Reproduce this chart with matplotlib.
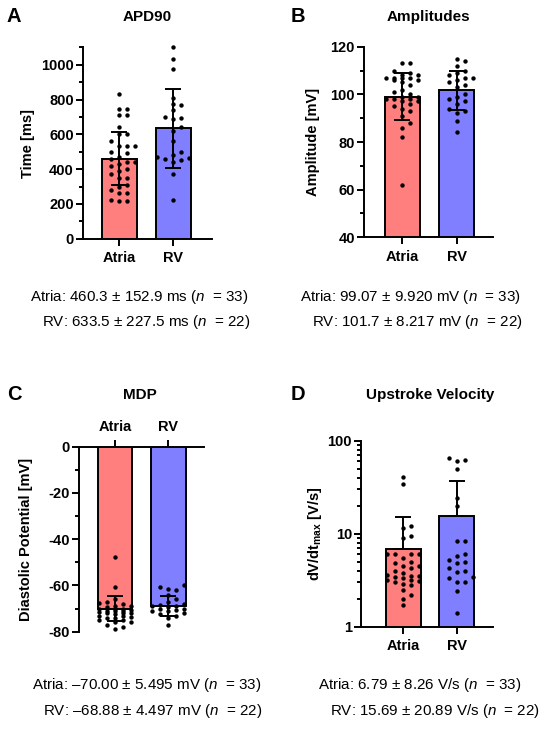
import numpy as np
import matplotlib
matplotlib.use("Agg")
import matplotlib.pyplot as plt
from matplotlib.ticker import MultipleLocator, FixedLocator, NullFormatter, FixedFormatter

plt.rcParams['font.family'] = ['Liberation Sans', 'DejaVu Sans']
plt.rcParams['mathtext.fontset'] = 'custom'
plt.rcParams['mathtext.rm'] = 'Liberation Sans'
plt.rcParams['mathtext.it'] = 'Liberation Sans:italic'
plt.rcParams['mathtext.bf'] = 'Liberation Sans:bold'
plt.rcParams['axes.unicode_minus'] = False

# ---------------- data ----------------
groups = ["Atria", "RV"]
n_counts = [33, 22]

apd_atria = [833, 745, 745, 712, 712, 640, 600, 600, 560, 530, 530, 530, 500, 490, 470, 460,
             440, 440, 430, 420, 400, 390, 370, 350, 350, 310, 300, 280, 260, 260, 215, 220, 215]
apd_rv = [1100, 1035, 975, 810, 775, 770, 740, 700, 695, 690, 640, 620, 560, 500, 480, 470,
          465, 460, 450, 440, 370, 220]
apd_mean = [460.3, 633.5]
apd_sd = [152.9, 227.5]

amp_atria = [113, 113, 110, 109, 108, 108, 107, 107, 107, 107, 106, 106, 105, 104, 102, 101,
             100, 99, 99, 98, 98, 98, 97, 97, 96, 95, 94, 93, 91, 88, 86, 82, 62]
amp_rv = [115, 114, 112, 110, 109, 108, 107, 107, 106, 105, 104, 103, 100, 99, 98, 97, 96,
          94, 93, 92, 89, 84]
amp_mean = [99.07, 101.7]
amp_sd = [9.920, 8.217]

mdp_atria = [-47.5, -60.5, -66, -67, -67.5, -68, -69, -69, -69.5, -70, -70, -70, -70.5, -71,
             -71, -71, -71.5, -72, -72, -72, -72.5, -73, -73, -73.5, -74, -74, -75, -75, -76,
             -76, -77, -78, -79]
mdp_rv = [-60, -60.5, -61.5, -62, -64, -66, -67, -68, -68.5, -69, -69, -69.5, -70, -70, -70.5,
          -71, -71, -72, -72.5, -73, -74, -77]
mdp_mean = [-70.00, -68.88]
mdp_sd = [5.495, 4.497]

vel_atria = [41, 34, 12, 11.5, 9.5, 9, 6, 6, 6, 6, 5.5, 5, 4.8, 4.5, 4.5, 4.3, 4, 3.8, 3.5,
             3.5, 3.4, 3.3, 3.2, 3.2, 3.1, 3, 2.9, 2.8, 2.5, 2.2, 2, 1.7, 3.6]
vel_rv = [65, 62, 60, 50, 24, 20, 8.3, 8.3, 6, 5.8, 5.2, 5, 4.8, 4.3, 4, 3.9, 3.4, 3.3, 3.0,
          3.0, 2.4, 1.4]
vel_mean = [6.79, 15.69]
vel_sd = [8.26, 20.89]

stats_a = ["Atria: 460.3 ± 152.9 ms ($\\it{n}$  = 33)", "RV: 633.5 ± 227.5 ms ($\\it{n}$  = 22)"]
stats_b = ["Atria: 99.07 ± 9.920 mV ($\\it{n}$  = 33)", "RV: 101.7 ± 8.217 mV ($\\it{n}$  = 22)"]
stats_c = ["Atria: –70.00 ± 5.495 mV ($\\it{n}$  = 33)", "RV: –68.88 ± 4.497 mV ($\\it{n}$  = 22)"]
stats_d = ["Atria: 6.79 ± 8.26 V/s ($\\it{n}$  = 33)", "RV: 15.69 ± 20.89 V/s ($\\it{n}$  = 22)"]

# ---------------- style ----------------
W, H = 550, 729
fig = plt.figure(figsize=(W / 100, H / 100), dpi=100)
colors = ["#FF7F7F", "#7F7FFF"]
LW = 1.4

def px_axes(L, R, T, B):
    return fig.add_axes([L / W, 1 - B / H, (R - L) / W, (B - T) / H])

def swarm_offsets(ypix, step=8.0, dmin=5.5, kmax=2):
    ypix = np.asarray(ypix, float)
    order = np.argsort(ypix)
    placed = []
    xs = np.zeros(len(ypix))
    cands = [0.0]
    for k in range(1, kmax + 1):
        cands += [k * step, -k * step]
    for i in order:
        y = ypix[i]
        best, bestd = None, -1
        chosen = None
        for c in cands:
            md = min([np.hypot(c - px, y - py) for px, py in placed] or [1e9])
            if md >= dmin:
                chosen = c
                break
            if md > bestd:
                best, bestd = c, md
        if chosen is None:
            chosen = best
        xs[i] = chosen
        placed.append((chosen, y))
    return xs

def style_axes(ax, top=False):
    for s in ['top', 'right', 'bottom', 'left']:
        ax.spines[s].set_visible(False)
    ax.spines['left'].set_visible(True)
    ax.spines['left'].set_linewidth(LW)
    edge = 'top' if top else 'bottom'
    ax.spines[edge].set_visible(True)
    ax.spines[edge].set_linewidth(LW)
    ax.tick_params(axis='y', which='major', length=5, width=LW, labelsize=10.5, pad=1.5)
    ax.tick_params(axis='y', which='minor', length=3, width=LW)
    ax.tick_params(axis='x', which='major', length=5, width=LW, labelsize=10.5, pad=4)
    if top:
        ax.xaxis.tick_top()
    for lab in ax.get_xticklabels() + ax.get_yticklabels():
        lab.set_fontweight('bold')

def panel(rect, datasets, means, sds, ylim, xlim, log=False, top=False, lower_err=True):
    L, R, T, B = rect
    ax = px_axes(L, R, T, B)
    xpos = np.arange(len(groups))
    if log:
        ax.set_yscale('log')
    ax.set_xlim(*xlim)
    ax.set_ylim(*ylim)
    ax.bar(xpos, means, width=0.65, color=colors, edgecolor='black', linewidth=LW, zorder=1)
    hpx = B - T
    wpx = R - L
    xppu = wpx / (xlim[1] - xlim[0])
    for i, vals in enumerate(datasets):
        v = np.asarray(vals, float)
        if log:
            ypix = (np.log10(v) - np.log10(ylim[0])) / (np.log10(ylim[1]) - np.log10(ylim[0])) * hpx
        else:
            ypix = (v - ylim[0]) / (ylim[1] - ylim[0]) * hpx
        offs = swarm_offsets(ypix)
        ax.scatter(xpos[i] + offs / xppu, v, s=10, color='black', zorder=3, linewidths=0,
                   clip_on=False)
    if lower_err:
        yerr = sds
    else:
        yerr = [np.zeros(len(sds)), sds]
    ax.errorbar(xpos, means, yerr=yerr, fmt='none', ecolor='black', elinewidth=LW,
                capsize=6, capthick=LW, zorder=4)
    ax.set_xticks(xpos)
    ax.set_xticklabels(groups)
    return ax

# Panel A
axA = panel((82.7, 211.7, 47.3, 238.7), [apd_atria, apd_rv], apd_mean, apd_sd,
            (0, 1100), (-0.68, 1.71))
axA.yaxis.set_major_locator(FixedLocator([0, 200, 400, 600, 800, 1000]))
axA.yaxis.set_minor_locator(FixedLocator([100, 300, 500, 700, 900, 1100]))
style_axes(axA)

# Panel B
axB = panel((364, 493.3, 46.7, 237.3), [amp_atria, amp_rv], amp_mean, amp_sd,
            (40, 120), (-0.705, 1.674))
axB.yaxis.set_major_locator(MultipleLocator(20))
axB.yaxis.set_minor_locator(MultipleLocator(10))
style_axes(axB)

# Panel C
axC = panel((79, 204, 446.7, 631.7), [mdp_atria, mdp_rv], mdp_mean, mdp_sd,
            (-80, 0), (-0.675, 1.67), top=True)
axC.yaxis.set_major_locator(MultipleLocator(20))
axC.yaxis.set_minor_locator(MultipleLocator(10))
style_axes(axC, top=True)

# Panel D
axD = panel((361, 493.3, 440.7, 626.7), [vel_atria, vel_rv], vel_mean, vel_sd,
            (1, 100), (-0.79, 1.685), log=True, lower_err=False)
axD.yaxis.set_major_locator(FixedLocator([1, 10, 100]))
axD.yaxis.set_major_formatter(FixedFormatter(["1", "10", "100"]))
axD.yaxis.set_minor_locator(FixedLocator([2, 3, 4, 5, 6, 7, 8, 9, 20, 30, 40, 50, 60, 70, 80, 90]))
axD.yaxis.set_minor_formatter(NullFormatter())
style_axes(axD)

def ftext(x, y, s, **kw):
    fig.text(x / W, 1 - y / H, s, **kw)

# Panel letters and titles
for (x, y, s) in [(14, 17, "A"), (298, 17, "B"), (14, 395, "C"), (298, 395, "D")]:
    ftext(x, y, s, fontsize=14.5, fontweight='bold', ha='center', va='center')
for (x, y, s) in [(147, 17, "APD90"), (428, 17, "Amplitudes"), (140, 395, "MDP"),
                  (430, 395, "Upstroke Velocity")]:
    ftext(x, y, s, fontsize=11, fontweight='bold', ha='center', va='center')

# Y labels
ftext(28, 143, "Time [ms]", fontsize=10.5, fontweight='bold', rotation=90, ha='center', va='center')
ftext(313, 142, "Amplitude [mV]", fontsize=10.5, fontweight='bold', rotation=90, ha='center', va='center')
ftext(26, 539, "Diastolic Potential [mV]", fontsize=10.5, fontweight='bold', rotation=90, ha='center', va='center')
ftext(315, 534, "dV/dt$_{\\mathbf{max}}$ [V/s]", fontsize=10.5, fontweight='bold', rotation=90,
      ha='center', va='center')

# Stats text
for (x, y, s) in [(30, 297, stats_a[0]), (41.7, 322, stats_a[1]),
                  (300, 297, stats_b[0]), (311.7, 322, stats_b[1]),
                  (31.7, 685, stats_c[0]), (42.7, 711, stats_c[1]),
                  (318.3, 685, stats_d[0]), (330, 711, stats_d[1])]:
    ftext(x, y, s, fontsize=10.9, ha='left', va='center')

fig.savefig("out.png", dpi=100)
